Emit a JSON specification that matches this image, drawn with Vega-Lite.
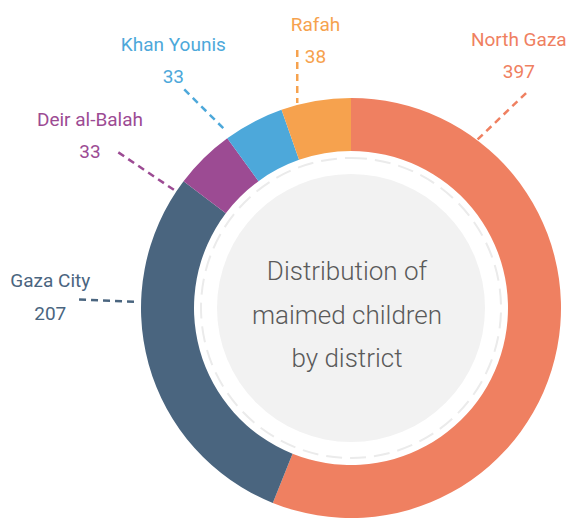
{
  "$schema": "https://vega.github.io/schema/vega-lite/v6.json",
  "width": 420,
  "height": 420,
  "autosize": {"type": "none"},
  "padding": {"left": 141, "top": 98, "right": 6, "bottom": 0},
  "background": "white",
  "config": {"view": {"stroke": null}},
  "datasets": {
    "districts": [
      {"district": "North Gaza", "rank": 1, "value": 397, "lx": 0.799, "ly": 1.249},
      {"district": "Gaza City", "rank": 2, "value": 207, "lx": -1.432, "ly": 0.099},
      {"district": "Deir al-Balah", "rank": 3, "value": 33, "lx": -1.243, "ly": 0.868},
      {"district": "Khan Younis", "rank": 4, "value": 33, "lx": -0.846, "ly": 1.225},
      {"district": "Rafah", "rank": 5, "value": 38, "lx": -0.169, "ly": 1.32}
    ],
    "leaders": [
      {"district": "North Gaza", "x": 0.849, "y": 1.038},
      {"district": "North Gaza", "x": 0.603, "y": 0.803},
      {"district": "Rafah", "x": -0.256, "y": 1.229},
      {"district": "Rafah", "x": -0.256, "y": 0.976},
      {"district": "Khan Younis", "x": -0.794, "y": 1.041},
      {"district": "Khan Younis", "x": -0.6, "y": 0.848},
      {"district": "Deir al-Balah", "x": -1.108, "y": 0.741},
      {"district": "Deir al-Balah", "x": -0.835, "y": 0.557},
      {"district": "Gaza City", "x": -1.295, "y": 0.041},
      {"district": "Gaza City", "x": -1.02, "y": 0.029}
    ]
  },
  "layer": [
    {
      "data": {"values": [{"part": "disc"}]},
      "mark": {"type": "arc", "radius": 134, "theta": 0, "theta2": 6.2832, "fill": "#f2f2f2"},
      "encoding": {}
    },
    {
      "data": {"values": [{"part": "ring"}]},
      "mark": {"type": "arc", "radius": 150, "theta": 0, "theta2": 6.2832, "filled": false, "fill": null, "stroke": "#ebebeb", "strokeWidth": 2, "strokeDash": [16, 8]},
      "encoding": {}
    },
    {
      "data": {"name": "districts"},
      "mark": {"type": "arc", "radius": 210, "radius2": 157},
      "encoding": {
        "theta": {"field": "value", "type": "quantitative", "stack": true},
        "order": {"field": "rank", "type": "quantitative", "sort": "ascending"},
        "color": {
          "field": "district", "type": "nominal", "legend": null,
          "scale": {"domain": ["North Gaza", "Gaza City", "Deir al-Balah", "Khan Younis", "Rafah"], "range": ["#EF8061", "#4A657F", "#9C4B93", "#4DA8DA", "#F6A24E"]}
        }
      }
    },
    {
      "data": {"name": "leaders"},
      "mark": {"type": "line", "strokeWidth": 2.5, "strokeDash": [7, 5]},
      "encoding": {
        "x": {"field": "x", "type": "quantitative", "axis": null, "scale": {"domain": [-1, 1], "nice": false, "zero": false}},
        "y": {"field": "y", "type": "quantitative", "axis": null, "scale": {"domain": [-1, 1], "nice": false, "zero": false}},
        "detail": {"field": "district"},
        "color": {"field": "district", "type": "nominal", "legend": null, "scale": {"domain": ["North Gaza", "Gaza City", "Deir al-Balah", "Khan Younis", "Rafah"], "range": ["#EF8061", "#4A657F", "#9C4B93", "#4DA8DA", "#F6A24E"]}}
      }
    },
    {
      "data": {"name": "districts"},
      "mark": {"type": "text", "font": "Roboto", "fontSize": 19, "align": "center", "baseline": "alphabetic"},
      "encoding": {
        "x": {"field": "lx", "type": "quantitative", "axis": null, "scale": {"domain": [-1, 1], "nice": false, "zero": false}},
        "y": {"field": "ly", "type": "quantitative", "axis": null, "scale": {"domain": [-1, 1], "nice": false, "zero": false}},
        "text": {"field": "district"},
        "color": {"field": "district", "type": "nominal", "legend": null, "scale": {"domain": ["North Gaza", "Gaza City", "Deir al-Balah", "Khan Younis", "Rafah"], "range": ["#EF8061", "#4A657F", "#9C4B93", "#4DA8DA", "#F6A24E"]}}
      }
    },
    {
      "data": {"name": "districts"},
      "mark": {"type": "text", "font": "Roboto", "fontSize": 19, "align": "center", "baseline": "alphabetic", "dy": 32.5},
      "encoding": {
        "x": {"field": "lx", "type": "quantitative", "axis": null, "scale": {"domain": [-1, 1], "nice": false, "zero": false}},
        "y": {"field": "ly", "type": "quantitative", "axis": null, "scale": {"domain": [-1, 1], "nice": false, "zero": false}},
        "text": {"field": "value", "type": "quantitative"},
        "color": {"field": "district", "type": "nominal", "legend": null, "scale": {"domain": ["North Gaza", "Gaza City", "Deir al-Balah", "Khan Younis", "Rafah"], "range": ["#EF8061", "#4A657F", "#9C4B93", "#4DA8DA", "#F6A24E"]}}
      }
    },
    {
      "data": {"values": [{"title": "centre"}]},
      "mark": {"type": "text", "text": ["Distribution of", "maimed children", "by district"], "font": "Roboto", "fontSize": 26, "fontWeight": 300, "lineHeight": 43.5, "align": "center", "baseline": "alphabetic", "color": "#5a5a5a"},
      "encoding": {
        "x": {"datum": -0.019, "type": "quantitative", "axis": null, "scale": {"domain": [-1, 1], "nice": false, "zero": false}},
        "y": {"datum": 0.1333, "type": "quantitative", "axis": null, "scale": {"domain": [-1, 1], "nice": false, "zero": false}}
      }
    }
  ]
}
